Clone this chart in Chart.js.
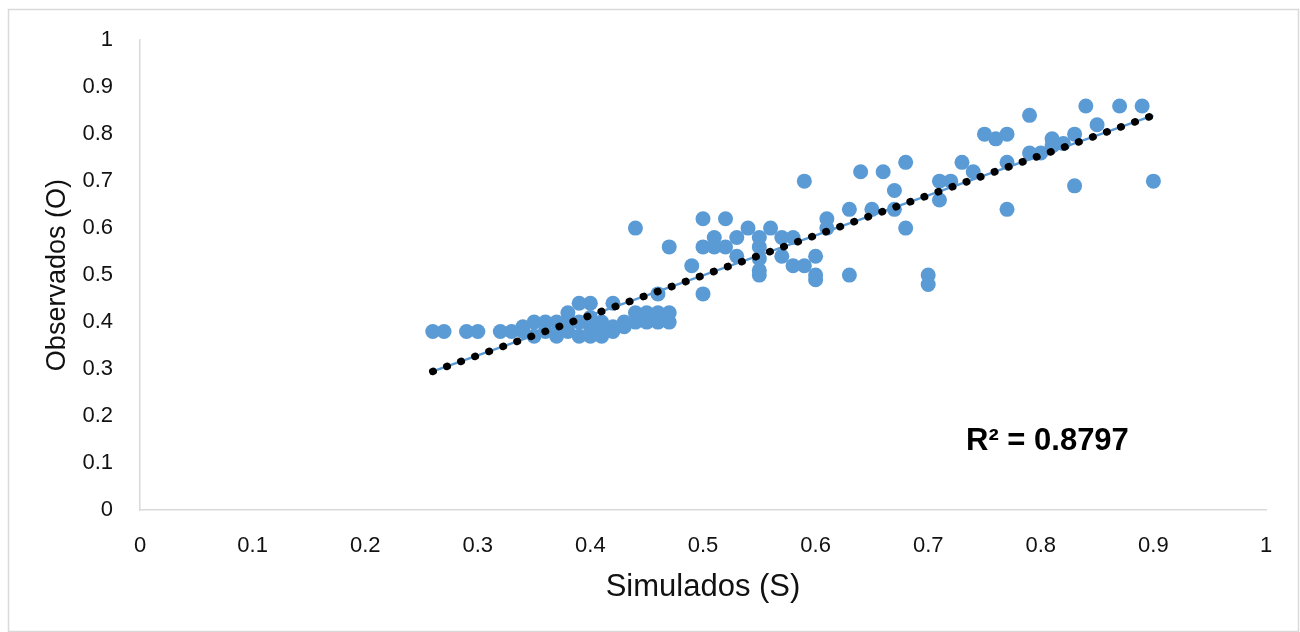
<!DOCTYPE html>
<html>
<head>
<meta charset="utf-8">
<script src="https://cdn.jsdelivr.net/npm/chart.js@4/dist/chart.umd.min.js"></script>
<style>
	html, body { margin: 0; padding: 0; background: #fff; }
	#wrap { width: 1300px; height: 632px; }
</style>
</head>
<body>
<div id="wrap"><canvas id="mycanvas" width="1300" height="632"></canvas></div>
<script>
// Simulados (S) / Observados (O)
var simX = [0.26, 0.27, 0.29, 0.30, 0.32, 0.33, 0.34, 0.34, 0.35, 0.35,
	0.36, 0.36, 0.37, 0.37, 0.38, 0.38, 0.38, 0.39, 0.39, 0.39,
	0.40, 0.40, 0.40, 0.40, 0.41, 0.41, 0.41, 0.42, 0.42, 0.42,
	0.43, 0.43, 0.44, 0.44, 0.45, 0.45, 0.46, 0.46, 0.47, 0.47,
	0.46, 0.44, 0.47, 0.49, 0.50, 0.50, 0.50, 0.51, 0.51, 0.52,
	0.52, 0.53, 0.53, 0.54, 0.55, 0.55, 0.55, 0.55, 0.55, 0.56,
	0.57, 0.57, 0.58, 0.58, 0.59, 0.59, 0.60, 0.60, 0.60, 0.61,
	0.61, 0.63, 0.63, 0.64, 0.65, 0.66, 0.67, 0.67, 0.68, 0.68,
	0.70, 0.70, 0.71, 0.71, 0.72, 0.73, 0.74, 0.75, 0.76, 0.77,
	0.77, 0.77, 0.79, 0.79, 0.80, 0.81, 0.81, 0.82, 0.83, 0.83,
	0.84, 0.85, 0.87, 0.89, 0.90];
var obsY = [0.38, 0.38, 0.38, 0.38, 0.38, 0.38, 0.38, 0.39, 0.40, 0.37,
	0.40, 0.38, 0.40, 0.37, 0.42, 0.40, 0.38, 0.44, 0.40, 0.37,
	0.44, 0.41, 0.39, 0.37, 0.40, 0.37, 0.39, 0.44, 0.39, 0.38,
	0.40, 0.39, 0.42, 0.40, 0.42, 0.40, 0.42, 0.40, 0.42, 0.40,
	0.46, 0.60, 0.56, 0.52, 0.62, 0.56, 0.46, 0.58, 0.56, 0.62,
	0.56, 0.58, 0.54, 0.60, 0.58, 0.56, 0.535, 0.51, 0.50, 0.60,
	0.58, 0.54, 0.58, 0.52, 0.52, 0.70, 0.54, 0.50, 0.49, 0.62,
	0.60, 0.64, 0.50, 0.72, 0.64, 0.72, 0.68, 0.64, 0.74, 0.60,
	0.50, 0.48, 0.70, 0.66, 0.70, 0.74, 0.72, 0.80, 0.79, 0.80,
	0.74, 0.64, 0.84, 0.76, 0.76, 0.79, 0.775, 0.78, 0.80, 0.69,
	0.86, 0.82, 0.86, 0.86, 0.70];

// linear trendline ends as drawn
var trendX = [0.26, 0.90];
var trendY = [0.295, 0.84];
var r2Label = 'R\u00b2 = 0.8797';

var axisTicks = [0, 0.1, 0.2, 0.3, 0.4, 0.5, 0.6, 0.7, 0.8, 0.9, 1];

var points = [];
for (var i in simX) {
	points.push({x: simX[i], y: obsY[i]});
}
var trend = [];
for (var j in trendX) {
	trend.push({x: trendX[j], y: trendY[j]});
}

var fontName = "'Liberation Sans', Arial, sans-serif";

var framePlugin = {
	id: 'frame',
	beforeDraw: function(chart) {
		var c = chart.ctx;
		c.save();
		c.fillStyle = '#ffffff';
		c.fillRect(0, 0, chart.width, chart.height);
		c.strokeStyle = '#d9d9d9';
		c.lineWidth = 1.5;
		c.strokeRect(8.5, 9.5, 1290, 622);
		c.restore();
	},
	afterDraw: function(chart) {
		var c = chart.ctx;
		var a = chart.chartArea;
		c.save();
		c.fillStyle = '#000000';
		c.font = 'bold 31px ' + fontName;
		c.textBaseline = 'alphabetic';
		c.textAlign = 'left';
		c.fillText(r2Label, a.left + 826, a.top + 410);
		c.restore();
	}
};

var ctx = document.getElementById('mycanvas');

var chart = new Chart(ctx, {
	type: 'scatter',
	data: {
		datasets: [
			{
				type: 'line',
				label: 'trend dots',
				data: trend,
				borderColor: '#000000',
				borderWidth: 7.5,
				borderDash: [0.5, 14.4],
				borderCapStyle: 'round',
				pointRadius: 0,
				fill: false,
				order: 0
			},
			{
				type: 'line',
				label: 'trend',
				data: trend,
				borderColor: '#5b9bd5',
				borderWidth: 2.5,
				pointRadius: 0,
				fill: false,
				order: 1
			},
			{
				label: 'Observados',
				data: points,
				backgroundColor: '#5b9bd5',
				borderColor: '#5b9bd5',
				borderWidth: 0,
				pointRadius: 7.5,
				order: 2
			}
		]
	},
	options: {
		responsive: false,
		animation: false,
		devicePixelRatio: 1,
		layout: {padding: {left: 0, right: 34, top: 39, bottom: 0}},
		plugins: {
			legend: {display: false},
			tooltip: {enabled: false}
		},
		scales: {
			x: {
				type: 'linear',
				min: 0,
				max: 1,
				afterBuildTicks: function(scale) {
					scale.ticks = axisTicks.map(function(v) { return {value: v}; });
				},
				afterFit: function(scale) { scale.height = 122; },
				grid: {display: false, drawTicks: false},
				border: {display: true, color: '#d9d9d9', width: 1.5},
				ticks: {
					padding: 23,
					color: '#111111',
					font: {family: fontName, size: 22},
					maxRotation: 0,
					callback: function(v) { return String(+v.toFixed(1)); }
				},
				title: {
					display: true,
					text: 'Simulados (S)',
					color: '#111111',
					font: {family: fontName, size: 31},
					padding: {top: 0, bottom: 26}
				}
			},
			y: {
				type: 'linear',
				min: 0,
				max: 1,
				afterBuildTicks: function(scale) {
					scale.ticks = axisTicks.map(function(v) { return {value: v}; });
				},
				afterFit: function(scale) { scale.width = 140; },
				grid: {display: false, drawTicks: false},
				border: {display: true, color: '#d9d9d9', width: 1.5},
				ticks: {
					padding: 27,
					color: '#111111',
					font: {family: fontName, size: 22},
					callback: function(v) { return String(+v.toFixed(1)); }
				},
				title: {
					display: true,
					text: 'Observados (O)',
					color: '#111111',
					font: {family: fontName, size: 27},
					padding: {top: 41, bottom: 0}
				}
			}
		}
	},
	plugins: [framePlugin]
});
</script>
</body>
</html>
